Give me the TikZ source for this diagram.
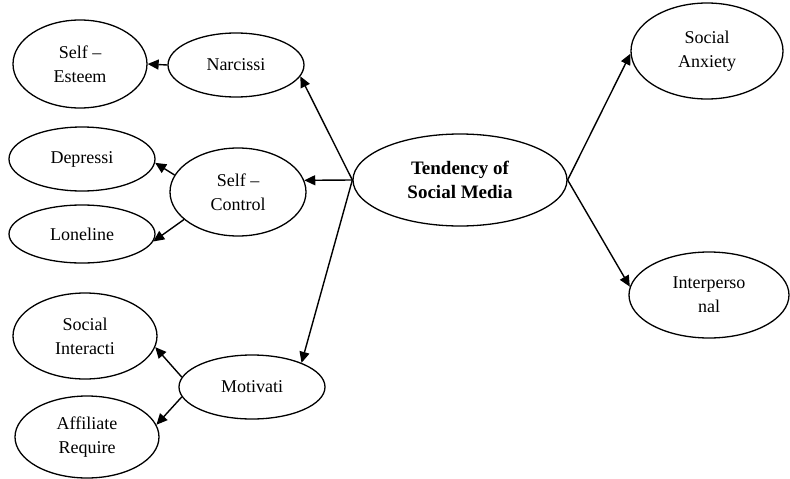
\documentclass[tikz,border=0pt]{standalone}
\usepackage{fontspec}
\setmainfont{Liberation Serif}
\usetikzlibrary{shapes.geometric,arrows.meta}
\begin{document}
\begin{tikzpicture}[x=1pt,y=-1pt,
  el/.style={draw,line width=1.3pt,ellipse,inner sep=0pt,align=center,
    font=\fontsize{18}{24}\selectfont},
  arr/.style={line width=1.4pt,-{Triangle[length=11pt,width=10pt]}}]
\useasboundingbox (0,0) rectangle (790,479);
\node[el,minimum width=134pt,minimum height=88pt] (SE) at (80,64) {Self –\\Esteem};
\node[el,minimum width=136pt,minimum height=64pt] (N) at (236,65) {Narcissi};
\node[el,minimum width=146pt,minimum height=64pt] (D) at (82,159) {Depressi};
\node[el,minimum width=136pt,minimum height=88pt] (SC) at (238,192) {Self –\\Control};
\node[el,minimum width=146pt,minimum height=58pt] (L) at (82,234) {Loneline};
\node[el,minimum width=144pt,minimum height=86pt] (SI) at (85,336) {Social\\Interacti};
\node[el,minimum width=146pt,minimum height=64pt] (M) at (252,387) {Motivati};
\node[el,minimum width=144pt,minimum height=82pt] (AR) at (87,437) {Affiliate\\Require};
\node[el,minimum width=214pt,minimum height=92pt,font=\fontsize{19}{24}\selectfont\bfseries] (T) at (460,180) {Tendency of\\Social Media};
\node[el,minimum width=152pt,minimum height=96pt] (SA) at (707,51) {Social\\Anxiety};
\node[el,minimum width=160pt,minimum height=86pt] (IP) at (709,295) {Interperso\\nal};
\draw[arr] (T.west) -- (N.-10);
\draw[arr] (T.west) -- (SC.10);
\draw[arr] (T.west) -- (M.26);
\draw[arr] (T.east) -- (SA.182);
\draw[arr] (T.east) -- (IP.174);
\draw[arr] (N.west) -- (SE.east);
\draw[arr] (SC.165) -- (D.-3);
\draw[arr] (SC.207) -- (L.-6);
\draw[arr] (M.172) -- (SI.-9);
\draw[arr] (M.188) -- (AR.10);
\end{tikzpicture}
\end{document}
